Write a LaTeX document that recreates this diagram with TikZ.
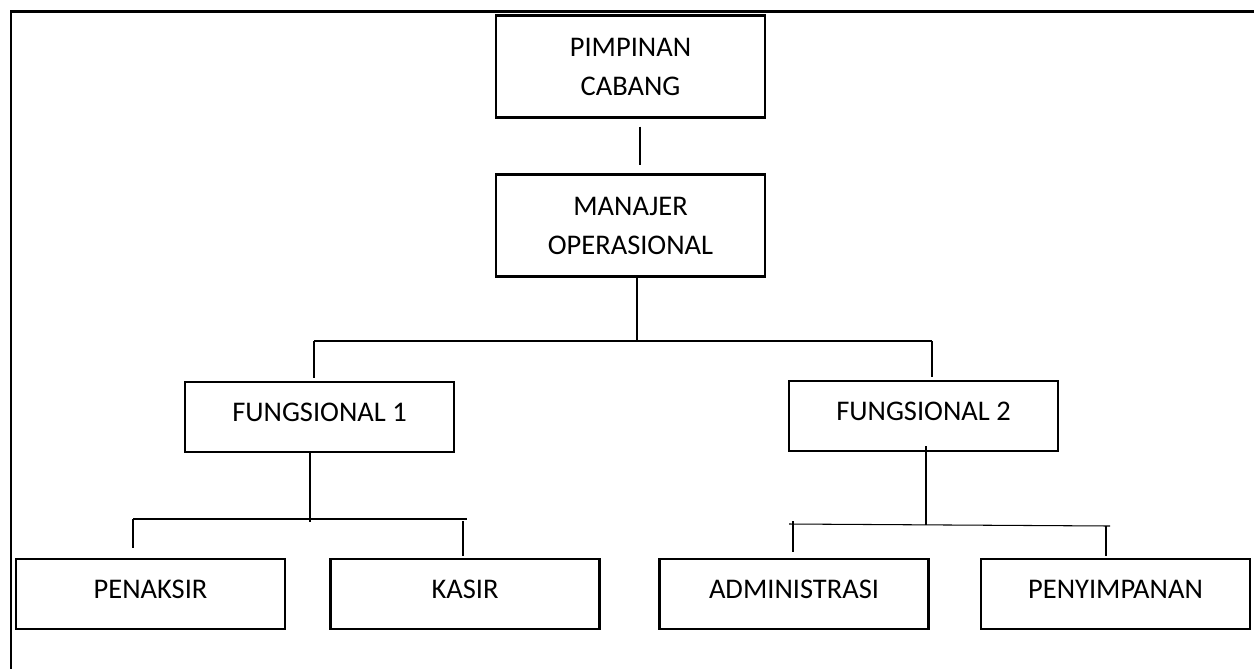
\documentclass[tikz,border=0pt]{standalone}
\usepackage{fontspec}
\setmainfont{Carlito}
\tikzset{
	box/.style={draw=black,line width=1.35pt,minimum width=5.38cm,align=center,inner sep=2pt,
		font=\fontsize{16.2}{22.2}\selectfont},
	head/.style={box,minimum height=2.04cm},
	unit/.style={box,minimum height=1.4cm,text depth=0.18cm},
	link/.style={draw=black,line width=0.6pt},
	frame/.style={draw=black,line width=1.7pt},
}
\begin{document}
\begin{tikzpicture}
	\useasboundingbox (0,0) rectangle (25.08,-13.38);
	\draw[frame] (25.08,-0.22) -- (0.22,-0.22) -- (0.22,-13.38);
	% boxes
	\node[head] (pimpinan) at (12.61,-1.33) {PIMPINAN\\CABANG};
	\node[head] (manajer) at (12.61,-4.51) {MANAJER\\OPERASIONAL};
	\node[unit] (fung1) at (6.39,-8.34) {FUNGSIONAL 1};
	\node[unit] (fung2) at (18.47,-8.32) {FUNGSIONAL 2};
	\node[unit] (penaksir) at (3.01,-11.88) {PENAKSIR};
	\node[unit] (kasir) at (9.30,-11.88) {KASIR};
	\node[unit] (admin) at (15.88,-11.88) {ADMINISTRASI};
	\node[unit] (simpan) at (22.31,-11.88) {PENYIMPANAN};
	% top link
	\draw[link,shorten <=0.16cm,shorten >=0.16cm] ([xshift=0.19cm]pimpinan.south) -- ([xshift=0.19cm]manajer.north);
	% first branch
	\coordinate (j1) at (12.74,-6.82);
	\coordinate (j1a) at (6.28,-6.82);
	\coordinate (j1b) at (18.64,-6.82);
	\draw[link] (manajer.south -| j1) -- (j1);
	\draw[link] (j1a) -- (j1b);
	\foreach \j/\n in {j1a/fung1,j1b/fung2}
	\draw[link,shorten >=0.06cm] (\j) -- (\n.north -| \j);
	% second and third branch
	\coordinate (j2) at (6.20,-10.44);
	\coordinate (j2a) at (2.66,-10.38);
	\coordinate (j2b) at (9.34,-10.38);
	\coordinate (k2b) at (9.26,-10.42);
	\coordinate (j3) at (18.52,-10.50);
	\coordinate (j3a) at (15.78,-10.48);
	\coordinate (j3b) at (22.20,-10.52);
	\coordinate (k3a) at (15.86,-10.42);
	\coordinate (k3b) at (22.12,-10.52);
	\draw[link] (fung1.south -| j2) -- (j2);
	\draw[link] ([yshift=0.12cm]fung2.south -| j3) -- (j3);
	\draw[link] (j2a) -- (j2b);
	\draw[link] (j3a) -- (j3b);
	\foreach \j/\n/\s in {j2a/penaksir/0.2,k2b/kasir/0.04,k3a/admin/0.12,k3b/simpan/0.04}
	\draw[link,shorten >=\s cm] (\j) -- (\n.north -| \j);
\end{tikzpicture}
\end{document}
